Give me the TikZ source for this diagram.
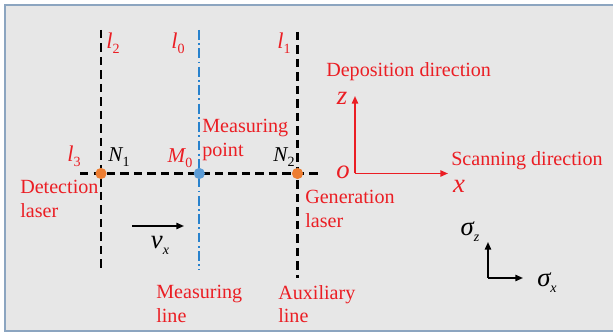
\documentclass[tikz,border=0pt]{standalone}
\usepackage{fontspec}
\setmainfont{Liberation Serif}
\usepackage{xcolor}
\usetikzlibrary{arrows.meta}
\definecolor{figred}{RGB}{235,30,36}
\definecolor{dotorange}{RGB}{237,125,49}
\definecolor{dotblue}{RGB}{91,155,213}
\definecolor{lineblue}{RGB}{40,130,205}
\definecolor{panelgray}{RGB}{231,231,231}
\definecolor{framegray}{RGB}{140,165,192}
\newcommand{\sbs}[1]{\raisebox{-0.5ex}{\fontsize{10}{10}\selectfont #1}}
\newcommand{\sbn}[1]{\raisebox{-0.5ex}{\fontsize{10}{10}\selectfont\upshape #1}}
\tikzset{
    lbl/.style={text=figred,font=\fontsize{14.3}{16.5}\selectfont,align=left,inner sep=0pt},
    sym/.style={font=\fontsize{16}{16}\selectfont\itshape,inner sep=0pt},
    bigsym/.style={font=\fontsize{19}{19}\selectfont\itshape,inner sep=0pt},
    cutline/.style={line width=1.8pt,dash pattern=on 6pt off 3.6pt},
    measline/.style={lineblue,line width=1.4pt,dash pattern=on 7pt off 2.4pt on 1.3pt off 2.4pt},
    spot/.style={circle,inner sep=0pt,minimum size=0.28cm},
    axis/.style={line width=1.2pt,-{Triangle[length=5.5pt,width=4.5pt]}}
}

\begin{document}
\begin{tikzpicture}[x=0.025cm,y=-0.025cm]
    \useasboundingbox (0,0) rectangle (613,333);
    \fill[panelgray] (5,5) rectangle (640,331);
    \draw[framegray,line width=1.4pt] (640,5)--(5,5)--(5,331)--(640,331);
    % lines
    \coordinate (h0) at (80,173.5);
    \coordinate (h1) at (322,173.5);
    \coordinate (a2) at (101,30);
    \coordinate (b2) at (101,272);
    \coordinate (a0) at (199.3,30);
    \coordinate (b0) at (199.3,270);
    \coordinate (a1) at (297.5,32);
    \coordinate (b1) at (297.5,278);
    \draw[cutline] (a2)--(b2);
    \draw[cutline] (a1)--(b1);
    \draw[measline] (a0)--(b0);
    \draw[cutline] (h0)--(h1);
    \node[spot,fill=dotorange] (N1) at (101,173.5) {};
    \node[spot,fill=dotblue] (M0) at (199.3,173.5) {};
    \node[spot,fill=dotorange] (N2) at (297.5,173.5) {};
    % line names
    \node[sym,text=figred] (l2) at (113,43) {l\sbn{2}};
    \node[sym,text=figred] (l0) at (178,43) {l\sbn{0}};
    \node[sym,text=figred] (l1) at (284,43) {l\sbn{1}};
    \node[sym,text=figred] (l3) at (74,156) {l\sbn{3}};
    \node[sym,font=\fontsize{15}{15}\selectfont\itshape] (n1) at (119,157) {N\sbn{1}};
    \node[sym,text=figred,font=\fontsize{15}{15}\selectfont\itshape] (m0) at (180,158) {M\sbn{0}};
    \node[sym,font=\fontsize{15}{15}\selectfont\itshape] (n2) at (284,157) {N\sbn{2}};
    % texts
    \node[lbl,anchor=west] (measpt) at (202,140) {Measuring\\point};
    \node[lbl,anchor=west] (detect) at (20,199) {Detection\\laser};
    \node[lbl,anchor=west] (gener) at (305,209) {Generation\\laser};
    \node[lbl,anchor=west] (mline) at (156,304) {Measuring\\line};
    \node[lbl,anchor=west] (aline) at (278,304) {Auxiliary\\line};
    \node[lbl,anchor=west] (depo) at (326,72) {Deposition direction};
    \node[lbl,anchor=west] (scan) at (451,161) {Scanning direction};
    % speed
    \coordinate (v0) at (132,226);
    \coordinate (v1) at (184,226);
    \draw[axis] (v0)--(v1);
    \node[bigsym] (vx) at (160,245) {v\sbs{x}};
    % red axes
    \coordinate (O) at (355,173.5);
    \coordinate (zend) at (355,96);
    \coordinate (xend) at (448,173.5);
    \draw[axis,figred] (O)--(zend);
    \draw[axis,figred] (O)--(xend);
    \node[bigsym,text=figred] (o) at (343,172) {o};
    \node[bigsym,text=figred] (z) at (342,98) {z};
    \node[bigsym,text=figred] (x) at (459,186) {x};
    % stress axes
    \coordinate (S) at (488,278);
    \coordinate (sz) at (488,242);
    \coordinate (sx) at (523,278);
    \draw[axis] (S)--(sz);
    \draw[axis] (S)--(sx);
    \node[bigsym] (sigz) at (470,232) {σ\sbs{z}};
    \node[bigsym] (sigx) at (547,283) {σ\sbs{x}};
\end{tikzpicture}
\end{document}
